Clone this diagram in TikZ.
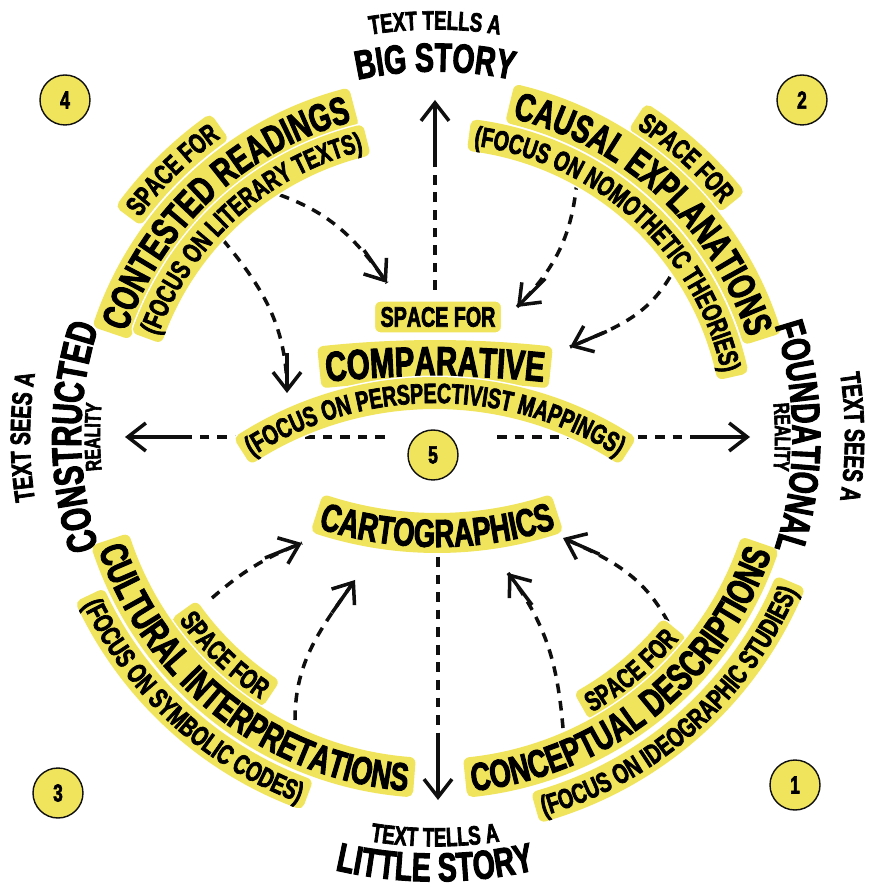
\documentclass[tikz,border=0pt]{standalone}
\usepackage{fontspec}
\newfontfamily\capfont{Liberation Sans}[FakeStretch=0.7, FakeBold=2.5, Kerning=Off]
\usetikzlibrary{arrows.meta,decorations.text}
\definecolor{hiyellow}{RGB}{240,228,92}
\definecolor{inkblack}{RGB}{15,15,15}
\newcommand\cfsz[1]{\capfont\bfseries\fontsize{#1}{#1}\selectfont}
\newcommand\cfnow{\cfsz{\rtsize}}
\newsavebox\rtbox
\newdimen\rtwid

\tikzset{
  bandfill/.style={fill=hiyellow, draw=hiyellow, line width=0.24cm, line join=round,
    preaction={draw=white, line width=0.3cm, line join=round}},
  yband/.style={fill=hiyellow, draw=white, line width=0.6pt, rounded corners=0.12cm, inner sep=0.12cm},
  numdot/.style={circle, fill=hiyellow, draw=inkblack, line width=0.8pt, minimum size=1cm, inner sep=0pt, font=\cfsz{14}},
  dashline/.style={draw=inkblack, line width=2pt, dash pattern=on 5.5pt off 4.5pt},
  solidtip/.style={draw=inkblack, line width=2pt, -{Straight Barb[length=0.36cm, width=0.56cm]}},
}

% text on a circle: centre, mid radius, mid angle, 1 = clockwise / -1 = anticlockwise, cap height, text
\NewDocumentCommand\ringtext{s O{0,0} m m m m m}{%
  \pgfmathsetmacro\rtsize{#6*0.795}%
  \pgfmathsetmacro\rtbase{#3-#5*#6/2}%
  \pgfinterruptpicture
    \sbox\rtbox{\cfsz{\rtsize}#7}%
    \global\rtwid=\wd\rtbox
  \endpgfinterruptpicture
  \pgfmathsetmacro\rthalf{\rtwid/0.5691/2/\rtbase*57.2958}%
  \IfBooleanT{#1}{%
    \pgfmathsetmacro\rtin{#3-#6/2}%
    \pgfmathsetmacro\rtout{#3+#6/2}%
    \pgfmathsetmacro\rta{#4-\rthalf}%
    \pgfmathsetmacro\rtb{#4+\rthalf}%
    \path[bandfill] ([shift={(#2)}]\rta:\rtin) arc[start angle=\rta, end angle=\rtb, radius=\rtin]
      -- ([shift={(#2)}]\rtb:\rtout) arc[start angle=\rtb, end angle=\rta, radius=\rtout] -- cycle;
  }%
  \pgfmathsetmacro\rts{#4+#5*(\rthalf+20)}%
  \pgfmathsetmacro\rte{#4-#5*(\rthalf+20)}%
  \path[decorate, decoration={text along path, text align=center, text={|\cfnow|#7}}]
    ([shift={(#2)}]\rts:\rtbase) arc[start angle=\rts, end angle=\rte, radius=\rtbase];
}

% dashed curve with a solid end
\newcommand\flowarrow[4]{%
  \draw[dashline] (#1) to[out=#3, in=#4] (#2);
  \draw[solidtip] ([shift={(#4:40)}]#2) -- (#2);
}

\begin{document}
\begin{tikzpicture}[x=0.02cm, y=0.02cm]
\useasboundingbox (-435,-454) rectangle (434,437);

% axes
\coordinate (upin) at (0,147);
\coordinate (upmid) at (0,275);
\coordinate (uptip) at (0,337);
\coordinate (dnin) at (3,-120);
\coordinate (dnmid) at (3,-303);
\coordinate (dntip) at (3,-363);
\coordinate (ltin) at (-50,0);
\coordinate (ltmid) at (-252,0);
\coordinate (lttip) at (-310,0);
\coordinate (rtin) at (62,0);
\coordinate (rtmid) at (255,0);
\coordinate (rttip) at (315,0);
\draw[dashline] (upin) -- (upmid);
\draw[solidtip] (upmid) -- (uptip);
\draw[dashline] (dnin) -- (dnmid);
\draw[solidtip] (dnmid) -- (dntip);
\draw[dashline] (ltin) -- (ltmid);
\draw[solidtip] (ltmid) -- (lttip);
\draw[dashline] (rtin) -- (rtmid);
\draw[solidtip] (rtmid) -- (rttip);

% curved arrows
\coordinate (litA) at (-155,242);
\coordinate (litB) at (-212,197);
\coordinate (nomA) at (142,257);
\coordinate (nomB) at (235,160);
\coordinate (symA) at (-223,-161);
\coordinate (symB) at (-140,-283);
\coordinate (ideA) at (233,-185);
\coordinate (ideB) at (128,-291);
\coordinate (compL) at (-48,154);
\coordinate (compD) at (-148,44);
\coordinate (compT) at (82,130);
\coordinate (compR) at (135,90);
\coordinate (cartL) at (-133,-106);
\coordinate (cartM) at (-80,-143);
\coordinate (cartR) at (128,-101);
\coordinate (cartN) at (73,-136);
\flowarrow{litA}{compL}{-20}{125}
\flowarrow{litB}{compD}{-50}{90}
\flowarrow{nomA}{compT}{-95}{45}
\flowarrow{nomB}{compR}{-121}{23}
\flowarrow{symA}{cartL}{41}{202}
\flowarrow{symB}{cartM}{90}{235}
\flowarrow{ideA}{cartR}{118}{-24}
\flowarrow{ideB}{cartN}{95}{-53}

% quadrant 4
\ringtext*{378}{134.5}{1}{20}{SPACE FOR}
\ringtext*{340}{133}{1}{28}{CONTESTED READINGS}
\ringtext*{305}{132}{1}{20}{(FOCUS ON LITERARY TEXTS)}
% quadrant 2
\ringtext*{379}{48}{1}{20}{SPACE FOR}
\ringtext*{342}{47}{1}{28}{CAUSAL EXPLANATIONS}
\ringtext*{304}{47.5}{1}{20}{(FOCUS ON NOMOTHETIC THEORIES)}
% quadrant 3
\ringtext*{305}{226}{-1}{20}{SPACE FOR}
\ringtext*{341}{232}{-1}{28}{CULTURAL INTERPRETATIONS}
\ringtext*{380}{227.5}{-1}{20}{(FOCUS ON SYMBOLIC CODES)}
% quadrant 1
\ringtext*{307}{310}{-1}{20}{SPACE FOR}
\ringtext*{342}{308.5}{-1}{28}{CONCEPTUAL DESCRIPTIONS}
\ringtext*{384}{311.5}{-1}{20}{(FOCUS ON IDEOGRAPHIC STUDIES)}
% centre
\node[yband, font=\cfsz{16}] (spc) at (3,120) {SPACE FOR};
\ringtext*[0,-963]{1039}{90}{1}{30}{COMPARATIVE}
\ringtext*[0,-305]{349}{90}{1}{20}{(FOCUS ON PERSPECTIVIST MAPPINGS)}
\ringtext*[2,276]{372}{270}{-1}{28}{CARTOGRAPHICS}

% outer labels
\ringtext{417}{90}{1}{19}{TEXT TELLS A}
\ringtext{380}{90}{1}{29}{BIG STORY}
\ringtext{400}{270}{-1}{19}{TEXT TELLS A}
\ringtext{430}{270}{-1}{29}{LITTLE STORY}
\ringtext{415}{180}{1}{20}{TEXT SEES A}
\ringtext{369}{180}{1}{30}{CONSTRUCTED}
\ringtext{343}{180}{1}{16}{REALITY}
\ringtext{420}{0}{1}{20}{TEXT SEES A}
\ringtext{372}{0}{1}{29}{FOUNDATIONAL}
\ringtext{348}{0}{1}{16}{REALITY}

% numbers
\node[numdot] (q1) at (360,-348) {1};
\node[numdot] (q2) at (367,337) {2};
\node[numdot] (q3) at (-377,-356) {3};
\node[numdot] (q4) at (-370,337) {4};
\node[numdot] (q5) at (-2,-18) {5};
\end{tikzpicture}
\end{document}
